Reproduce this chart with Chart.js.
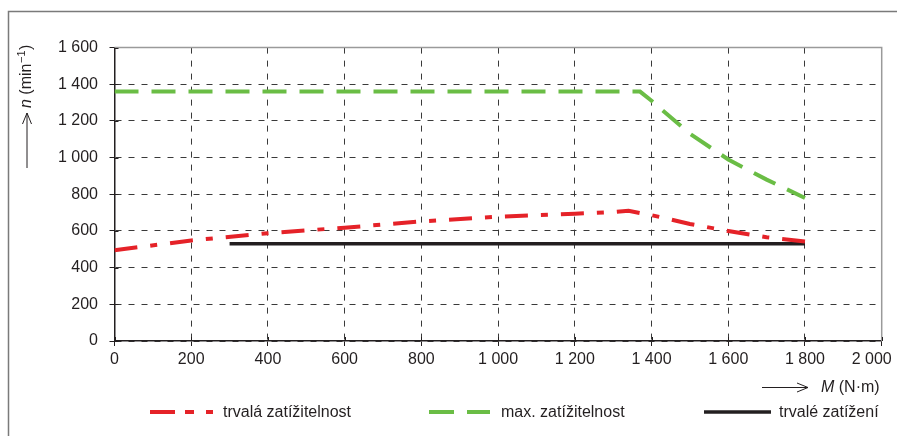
<!DOCTYPE html>
<html><head><meta charset="utf-8">
<script src="https://cdn.jsdelivr.net/npm/chart.js@4.4.0/dist/chart.umd.min.js"></script>
<style>html,body{margin:0;padding:0;background:#fff;overflow:hidden}#wrap{width:897px;height:436px;position:relative}</style>
</head><body><div id="wrap"><canvas id="c" width="897" height="436"></canvas></div>
<script>
// ---- data ----
const xTickValues = [0,200,400,600,800,1000,1200,1400,1600,1800,2000];
const xTickLabels = ['0','200','400','600','800','1 000','1 200','1 400','1 600','1 800','2 000'];
const yTickValues = [0,200,400,600,800,1000,1200,1400,1600];
const yTickLabels = ['0','200','400','600','800','1 000','1 200','1 400','1 600'];
const seriesNames = ['trvalá zatížitelnost','max. zatížitelnost','trvalé zatížení'];
const redM   = [0,200,400,600,800,1000,1200,1300,1340,1400,1440,1500,1600,1700,1800];
const redN   = [495,548,588,618,652,678,694,703,710,686,668,638,600,566,543];
const greenM = [0,1370,1400,1500,1600,1700,1800];
const greenN = [1360,1360,1310,1130,990,880,780];
const blackM = [300,1800];
const blackN = [530,530];
const xTitleMain = 'M', xTitleRest = ' (N·m)';
const yTitleMain = 'n', yTitleA = ' (min', yTitleSup = '−1', yTitleB = ')';

const FONT = '"Liberation Sans", Arial, sans-serif';
const DARK = '#231f20';
const colors = ['#e52228','#6abd45',DARK];
const toXY = (xs, ys) => xs.map((x,i)=>({x:x,y:ys[i]}));
const LAST_X = xTickValues.length - 1;

const deco = {
  id:'deco',
  afterDraw(chart){
    const ctx = chart.ctx, a = chart.chartArea;
    const xs = chart.scales.x, ys = chart.scales.y;
    ctx.save();
    // outer frame
    ctx.strokeStyle = '#7a7a7a'; ctx.lineWidth = 1.5;
    ctx.beginPath(); ctx.moveTo(8.5, 436); ctx.lineTo(8.5, 11.5); ctx.lineTo(897, 11.5); ctx.stroke();
    // plot top/right frame
    ctx.strokeStyle = '#9a9a9a'; ctx.lineWidth = 1.5;
    ctx.beginPath(); ctx.moveTo(a.left, a.top); ctx.lineTo(a.right, a.top); ctx.lineTo(a.right, a.bottom); ctx.stroke();
    // inner tick parts
    ctx.strokeStyle = DARK; ctx.lineWidth = 1;
    ctx.beginPath();
    xTickValues.forEach(v=>{ const p = Math.round(xs.getPixelForValue(v))+0.5; ctx.moveTo(p, a.bottom); ctx.lineTo(p, a.bottom-4); });
    yTickValues.forEach(v=>{ const p = Math.round(ys.getPixelForValue(v))+0.5; ctx.moveTo(a.left, p); ctx.lineTo(a.left+4, p); });
    ctx.stroke();
    // last x tick label, pulled inside the frame
    ctx.fillStyle = DARK; ctx.font = '16px ' + FONT; ctx.textAlign = 'center'; ctx.textBaseline = 'middle';
    ctx.fillText(xTickLabels[LAST_X], xs.getPixelForValue(xTickValues[LAST_X]) - 10, 359.5);
    // x title
    ctx.strokeStyle = DARK; ctx.lineWidth = 1;
    const ay = 387.5;
    ctx.beginPath(); ctx.moveTo(762, ay); ctx.lineTo(808, ay);
    ctx.moveTo(797, ay-4.5); ctx.lineTo(808, ay); ctx.lineTo(797, ay+4.5); ctx.stroke();
    ctx.textBaseline = 'middle'; ctx.textAlign = 'left';
    ctx.font = 'italic 16px ' + FONT; ctx.fillText(xTitleMain, 821, 388);
    let w = ctx.measureText(xTitleMain).width;
    ctx.font = '16px ' + FONT; ctx.fillText(xTitleRest, 821 + w, 388);
    // y title (rotated)
    ctx.save();
    ctx.translate(27, 0); ctx.rotate(-Math.PI/2);
    ctx.beginPath(); ctx.moveTo(-168, 0); ctx.lineTo(-113, 0);
    ctx.moveTo(-124, -4.5); ctx.lineTo(-113, 0); ctx.lineTo(-124, 4.5); ctx.stroke();
    let x0 = -108;
    ctx.font = 'italic 16px ' + FONT; ctx.fillText(yTitleMain, x0, 0); x0 += ctx.measureText(yTitleMain).width;
    ctx.font = '16px ' + FONT; ctx.fillText(yTitleA, x0, 0); x0 += ctx.measureText(yTitleA).width;
    ctx.font = '11px ' + FONT; ctx.fillText(yTitleSup, x0+0.5, -5); x0 += ctx.measureText(yTitleSup).width + 1;
    ctx.font = '16px ' + FONT; ctx.fillText(yTitleB, x0, 0);
    ctx.restore();
    // legend
    const ly = 412;
    const items = [
      {x1:150, x2:213, dash:[25,10,9,12,7,100], tx:223},
      {x1:429, x2:490, dash:[25,13,23,100], tx:501},
      {x1:704, x2:771, dash:[], tx:779}
    ];
    items.forEach((it,i)=>{
      const ds = chart.data.datasets[i];
      ctx.save();
      ctx.strokeStyle = ds.borderColor; ctx.lineWidth = ds.borderWidth; ctx.lineCap = 'butt';
      ctx.setLineDash(it.dash);
      ctx.beginPath(); ctx.moveTo(it.x1, ly); ctx.lineTo(it.x2, ly); ctx.stroke();
      ctx.restore();
      ctx.fillStyle = DARK; ctx.font = '16px ' + FONT; ctx.textBaseline = 'middle'; ctx.textAlign = 'left';
      ctx.fillText(seriesNames[i], it.tx, ly+1);
    });
    ctx.restore();
  }
};

const gridCommon = { color:'#3a3a3a', lineWidth:1, tickLength:5, tickColor:DARK, tickWidth:1 };
const borderCommon = { color:DARK, width:1.5, dash:[6,7] };

new Chart(document.getElementById('c'), {
  type:'line',
  data:{ datasets:[
    { label:seriesNames[0], data:toXY(redM, redN), borderColor:colors[0], borderWidth:4, borderDash:[23,13,7,13], borderCapStyle:'butt', pointRadius:0, fill:false, tension:0 },
    { label:seriesNames[1], data:toXY(greenM, greenN), borderColor:colors[1], borderWidth:4, borderDash:[24,13], borderCapStyle:'butt', pointRadius:0, fill:false, tension:0 },
    { label:seriesNames[2], data:toXY(blackM, blackN), borderColor:colors[2], borderWidth:3.5, pointRadius:0, fill:false, tension:0 }
  ]},
  options:{
    responsive:false, animation:false, devicePixelRatio:1,
    layout:{ padding:{ left:0, right:15.3, top:47.6, bottom:0 } },
    plugins:{ legend:{display:false}, tooltip:{enabled:false}, title:{display:false} },
    scales:{
      x:{ type:'linear', min:0, max:2000,
        afterBuildTicks:s=>{ s.ticks = xTickValues.map(v=>({value:v})); },
        ticks:{ callback:(v)=>{ const i = xTickValues.indexOf(v); return (i<0||i===LAST_X)?'':xTickLabels[i]; }, font:{family:FONT,size:16}, color:DARK, padding:4, maxRotation:0, autoSkip:false },
        grid:gridCommon, border:borderCommon,
        afterFit:s=>{ s.height = 95; s.paddingLeft = 0; s.paddingRight = 0; } },
      y:{ type:'linear', min:0, max:1600,
        afterBuildTicks:s=>{ s.ticks = yTickValues.map(v=>({value:v})); },
        ticks:{ callback:(v)=>{ const i = yTickValues.indexOf(v); return i<0?'':yTickLabels[i]; }, font:{family:FONT,size:16}, color:DARK, padding:11.5, autoSkip:false },
        grid:gridCommon, border:borderCommon,
        afterFit:s=>{ s.width = 114.5; s.paddingTop = 0; s.paddingBottom = 0; } }
    }
  },
  plugins:[deco]
});
</script></body></html>
